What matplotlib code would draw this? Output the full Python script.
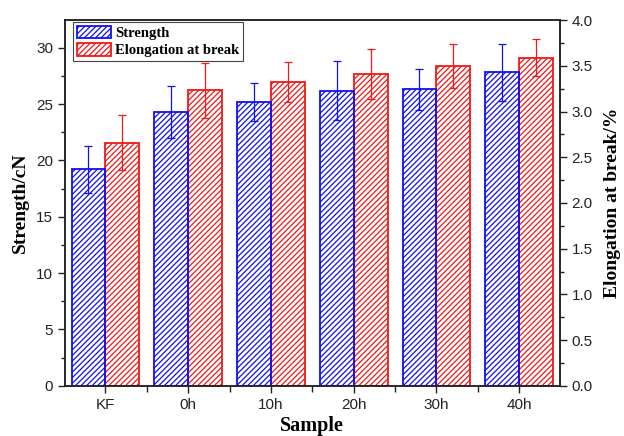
import matplotlib.pyplot as plt
import numpy as np

samples = ['KF', '0h', '10h', '20h', '30h', '40h']
strength = [19.2, 24.3, 25.2, 26.2, 26.3, 27.8]
strength_err = [2.05, 2.3, 1.7, 2.65, 1.8, 2.5]
elong = [2.66, 3.23, 3.32, 3.41, 3.50, 3.59]
elong_err = [0.30, 0.30, 0.22, 0.27, 0.24, 0.20]

plt.rcParams['hatch.linewidth'] = 0.9
fig = plt.figure(figsize=(6.24, 4.36), dpi=100)
ax = fig.add_axes([0.104, 0.115, 0.793, 0.839])
ax2 = ax.twinx()

x = np.arange(len(samples))
w = 0.41
blue = '#1010f0'
red = '#f01818'

b1 = ax.bar(x - w / 2, strength, w, facecolor='none', edgecolor=blue,
            hatch='//////', linewidth=1.3, label='Strength')
ax.errorbar(x - w / 2, strength, yerr=strength_err, fmt='none', ecolor=blue,
            elinewidth=0.9, capsize=3, capthick=0.9)
b2 = ax2.bar(x + w / 2, elong, w, facecolor='none', edgecolor=red,
             hatch='//////', linewidth=1.3, label='Elongation at break')
ax2.errorbar(x + w / 2, elong, yerr=elong_err, fmt='none', ecolor=red,
             elinewidth=0.9, capsize=3, capthick=0.9)

ax.set_zorder(ax2.get_zorder() + 1)
ax.patch.set_visible(False)

ax.set_xlim(-0.49, 5.49)
ax.set_ylim(0, 32.45)
ax2.set_ylim(0, 4.0)

tickfont = dict(family='Liberation Sans', size=11)
ax.set_xticks(x)
ax.set_xticklabels(samples, **tickfont)
ax.set_xticks(x[:-1] + 0.5, minor=True)
ax.set_yticks(np.arange(0, 31, 5))
ax.set_yticklabels([str(v) for v in range(0, 31, 5)], **tickfont)
ax.set_yticks(np.arange(0, 32.5, 2.5), minor=True)
ax2.set_yticks(np.arange(0, 4.01, 0.5))
ax2.set_yticklabels(['%.1f' % v for v in np.arange(0, 4.01, 0.5)], **tickfont)
ax2.set_yticks(np.arange(0, 4.01, 0.25), minor=True)

ax.tick_params(which='major', length=5, width=1, color='#222222', labelcolor='#222222')
ax.tick_params(which='minor', length=3, width=1, color='#222222')
ax.tick_params(axis='x', which='minor', length=4)
ax2.tick_params(which='major', length=5, width=1, color='#222222', labelcolor='#222222')
ax2.tick_params(which='minor', length=3, width=1, color='#222222')

for a in (ax, ax2):
    for s in a.spines.values():
        s.set_linewidth(1.1)
        s.set_color('#222222')

ax.set_xlabel('Sample', labelpad=3, family='Liberation Serif', weight='bold', size=14.5)
ax.set_ylabel('Strength/cN', labelpad=5, family='Liberation Serif', weight='bold', size=14)
ax2.set_ylabel('Elongation at break/%', labelpad=8, family='Liberation Serif',
               weight='bold', size=14)

leg = ax.legend([b1, b2], ['Strength', 'Elongation at break'], loc='upper left',
                bbox_to_anchor=(0.017, 0.995), borderaxespad=0, fancybox=False,
                framealpha=1, edgecolor='#444444', handlelength=2.35,
                handleheight=0.95, handletextpad=0.25, borderpad=0.25,
                labelspacing=0.22,
                prop=dict(family='Liberation Serif', weight='bold', size=10.5))
leg.get_frame().set_linewidth(0.8)

fig.savefig('out.png', dpi=100)
